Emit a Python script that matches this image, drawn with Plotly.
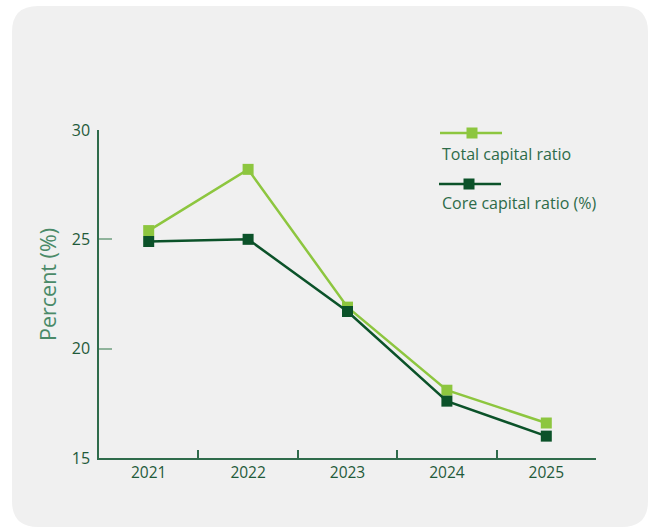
import plotly.graph_objects as go

years = ["2021", "2022", "2023", "2024", "2025"]
total_capital = [25.4, 28.2, 21.9, 18.1, 16.6]
core_capital = [24.9, 25.0, 21.7, 17.6, 16.0]
y_ticks = [15, 20, 25, 30]

LIGHT = "#8dc63f"
DARK = "#0b5229"
AXIS = "#2f6b4b"
TEXT = "#1f5a3a"
FONT = "Open Sans"

W, H = 650, 530
L, R, T, B = 99, 54, 130, 72
PW, PH = W - L - R, H - T - B


def px(x):
    return (x - L) / PW


def py(y):
    return (H - B - y) / PH


fig = go.Figure()
fig.add_trace(go.Scatter(
    x=years, y=total_capital, mode="lines+markers", name="Total capital ratio",
    line=dict(color=LIGHT, width=2.5),
    marker=dict(symbol="square", size=11, color=LIGHT),
))
fig.add_trace(go.Scatter(
    x=years, y=core_capital, mode="lines+markers", name="Core capital ratio (%)",
    line=dict(color=DARK, width=2.5),
    marker=dict(symbol="square", size=11, color=DARK),
))

# rounded card behind the chart
x0, x1, y0, y1, r = 12, 648, 6, 527, 26
rx, ry = r / PW, r / PH
X0, X1, Y0, Y1 = px(x0), px(x1), py(y1), py(y0)
path = (
    f"M {X0+rx},{Y1} L {X1-rx},{Y1} Q {X1},{Y1} {X1},{Y1-ry} "
    f"L {X1},{Y0+ry} Q {X1},{Y0} {X1-rx},{Y0} "
    f"L {X0+rx},{Y0} Q {X0},{Y0} {X0},{Y0+ry} "
    f"L {X0},{Y1-ry} Q {X0},{Y1} {X0+rx},{Y1} Z"
)
shapes = [dict(type="path", path=path, xref="paper", yref="paper",
               fillcolor="#f0f0f0", line=dict(width=0), layer="below")]

# legend swatches
legend_items = [
    ("Total capital ratio", LIGHT, 133, 440, 502, 472, 154),
    ("Core capital ratio (%)", DARK, 184, 439, 501, 469, 203),
]
annotations = []
for label, color, ly, lx0, lx1, mx, ty in legend_items:
    shapes.append(dict(type="line", xref="paper", yref="paper",
                       x0=px(lx0), x1=px(lx1), y0=py(ly), y1=py(ly),
                       line=dict(color=color, width=2.5)))
    shapes.append(dict(type="rect", xref="paper", yref="paper",
                       x0=px(mx - 5.5), x1=px(mx + 5.5), y0=py(ly + 5.5), y1=py(ly - 5.5),
                       fillcolor=color, line=dict(width=0)))
    annotations.append(dict(text=label, xref="paper", yref="paper",
                            x=px(440), y=py(ty), xanchor="left", yanchor="middle",
                            showarrow=False, font=dict(family=FONT, size=16, color="#2d6b49")))

# y-axis title
annotations.append(dict(text="Percent (%)", xref="paper", yref="paper",
                        x=px(47), y=py(285), xanchor="center", yanchor="middle",
                        textangle=-90, showarrow=False,
                        font=dict(family=FONT, size=21.5, color="#4a8a68")))

fig.update_layout(
    width=W, height=H,
    margin=dict(l=L, r=R, t=T, b=B),
    paper_bgcolor="white",
    plot_bgcolor="rgba(0,0,0,0)",
    showlegend=False,
    shapes=shapes,
    annotations=annotations,
    font=dict(family=FONT, color=TEXT),
)
fig.update_xaxes(
    type="category", range=[-0.5, 4.5],
    showline=True, linecolor=AXIS, linewidth=1.5,
    ticks="inside", tickson="boundaries", ticklen=8, tickcolor=AXIS, tickwidth=1.5,
    showgrid=False, zeroline=False,
    tickfont=dict(family=FONT, size=15.5, color=TEXT),
)
fig.update_yaxes(
    range=[15, 30], tickvals=y_ticks,
    showline=True, linecolor=AXIS, linewidth=1.5,
    ticks="inside", ticklen=13, tickcolor="#8fb39b", tickwidth=1.5,
    showgrid=False, zeroline=False, ticklabelstandoff=4,
    tickfont=dict(family=FONT, size=16, color=TEXT),
)

fig.write_html("out.html")
